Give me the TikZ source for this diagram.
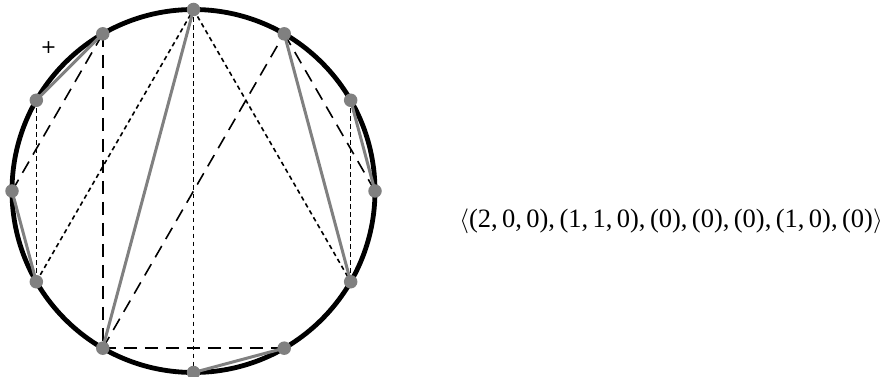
\documentclass[tikz,border=0pt]{standalone}
\usepackage{fontspec}
\setmainfont{Liberation Serif}
\newfontfamily\plusfont{DejaVu Sans}
\usetikzlibrary{calc}
\definecolor{midgray}{RGB}{128,128,128}
\begin{document}
\begin{tikzpicture}[x=1pt,y=-1pt,
  chordsolid/.style={draw=midgray, line width=3pt},
  chorddash/.style={draw=black, line width=1.6pt, dash pattern=on 13pt off 8pt},
  chorddot/.style={draw=black, line width=1.6pt, dash pattern=on 4.5pt off 3.5pt},
  vdot/.style={circle, fill=midgray, inner sep=0pt, minimum size=13.5pt}]
\useasboundingbox (0,0) rectangle (892,377);
\coordinate (c) at (193.5,191);
\foreach \i in {1,...,12} {
  \coordinate (p\i) at ($(c)+({90-30*(\i-1)}:181.5 and -181.5)$);
}
\draw[line width=4.8pt] (c) circle[radius=181.5];
% dashed
\draw[chorddash] (p10) -- (p12);
\draw[chorddash] (p12) -- (p8);
\draw[chorddash] (p8) -- (p6);
\draw[chorddash] (p8) -- (p2);
\draw[chorddash] (p2) -- (p4);
% dotted
\draw[chorddot] (p11) -- (p9);
\draw[chorddot] (p9) -- (p1);
\draw[chorddot] (p1) -- (p7);
\draw[chorddot] (p1) -- (p5);
\draw[chorddot] (p3) -- (p5);
% solid gray
\draw[chordsolid] (p12) -- (p11);
\draw[chordsolid] (p10) -- (p9);
\draw[chordsolid] (p8) -- (p1);
\draw[chordsolid] (p2) -- (p5);
\draw[chordsolid] (p3) -- (p4);
\draw[chordsolid] (p6) -- (p7);
\foreach \i in {1,...,12} { \node[vdot] (d\i) at (p\i) {}; }
\node (plus) at (48.5,48) {\plusfont\fontsize{19}{19}\selectfont +};
\node (seq) at (671,221) {\fontsize{26.5}{30}\selectfont $\langle$(2,\,0,\,0),\,(1,\,1,\,0),\,(0),\,(0),\,(0),\,(1,\,0),\,(0)$\rangle$};
\end{tikzpicture}
\end{document}
